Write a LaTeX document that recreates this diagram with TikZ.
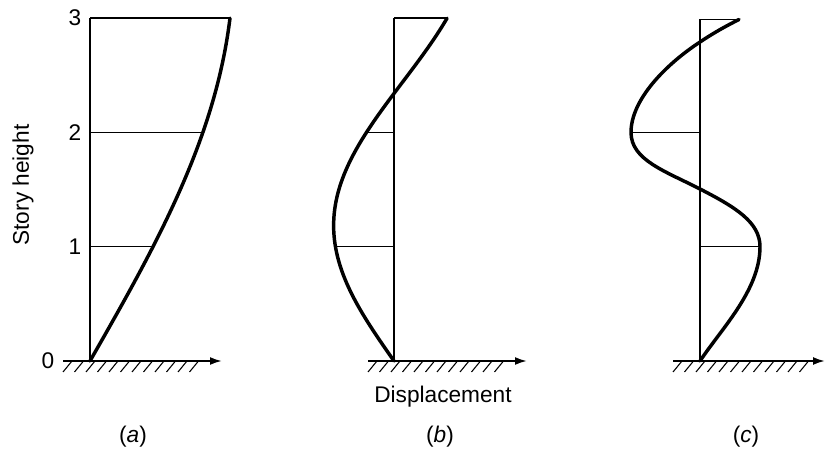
\documentclass[tikz,border=0pt]{standalone}
\usepackage{fontspec}
\setmainfont{Liberation Sans}
\usetikzlibrary{arrows.meta}
\begin{document}
\begin{tikzpicture}[x=0.75pt,y=-0.75pt,
  thinline/.style={line width=1.1pt},
  curveline/.style={line width=2.6pt, line join=round, line cap=round},
  axisline/.style={line width=1.5pt,-{Latex[length=9pt,width=6pt]}},
  hatchline/.style={line width=0.8pt},
  lbl/.style={font=\fontsize{17}{20}\selectfont, inner sep=0pt},
  captext/.style={font=\fontsize{17}{20}\selectfont, inner sep=0pt}]
\useasboundingbox (0,0) rectangle (825,452);

% ---------- panel (a)
\coordinate (a0) at (90,361);
\coordinate (a3) at (90,18.1);
\draw[thinline] (a0) -- (a3);
\draw[thinline] (90,246.7) -- (153,246.7);
\draw[thinline] (90,132.4) -- (202.9,132.4);
\draw[thinline] (a3) -- (230,18.1);
\draw[curveline] plot[domain=0:3,samples=80] ({90+140*(0.7*sin(30*\x)+0.1*\x)},{361-114.3*\x});
\coordinate (ax0) at (63,361);
\coordinate (ax1) at (222,361);
\draw[axisline] (ax0) -- (ax1);
\foreach \i in {0,...,11} \draw[hatchline] ({63+11.5*\i},372) -- ++(9,-11);
\node[lbl] (n0) at (48,361) {0};
\node[lbl] (n1) at (75,246.7) {1};
\node[lbl] (n2) at (75,132.4) {2};
\node[lbl] (n3) at (75,18.1) {3};
\node[captext,rotate=90] (sh) at (23,185) {Story height};
\node[captext] (ca) at (133,437) {(\textit{a})};

% ---------- panel (b)
\coordinate (b0) at (394,361);
\coordinate (b3) at (394,18.1);
\draw[thinline] (b0) -- (b3);
\draw[thinline] (335.4,246.7) -- (394,246.7);
\draw[thinline] (366.5,132.4) -- (394,132.4);
\draw[thinline] (b3) -- (447,18.1);
\draw[curveline] plot[domain=0:3,samples=80] ({394-61*sin(75*\x)+0.37*\x*\x*\x},{361-114.3*\x});
\coordinate (bx0) at (368,361);
\coordinate (bx1) at (527,361);
\draw[axisline] (bx0) -- (bx1);
\foreach \i in {0,...,11} \draw[hatchline] ({368+11.5*\i},372) -- ++(9,-11);
\node[captext] (disp) at (443,397) {Displacement};
\node[captext] (cb) at (440,437) {(\textit{b})};

% ---------- panel (c)
\coordinate (c0) at (700,361);
\coordinate (c3) at (700,19.5);
\draw[thinline] (c0) -- (c3);
\draw[thinline] (700,246.7) -- (760,246.7);
\draw[thinline] (631,132.4) -- (700,132.4);
\draw[thinline] (c3) -- (739,19.5);
\draw[curveline] (c0) .. controls (722,328) and (760,290) .. (760,246.7)
  .. controls (760,222) and (735,207) .. (700,189)
  .. controls (665,171) and (631,160) .. (631,132.4)
  .. controls (631,100) and (665,65) .. (700,42)
  .. controls (715,32) and (728,25) .. (739,19.5);
\coordinate (cx0) at (673,361);
\coordinate (cx1) at (825,361);
\draw[axisline] (cx0) -- (cx1);
\foreach \i in {0,...,11} \draw[hatchline] ({673+11.5*\i},372) -- ++(9,-11);
\node[captext] (cc) at (746,437) {(\textit{c})};
\end{tikzpicture}
\end{document}
